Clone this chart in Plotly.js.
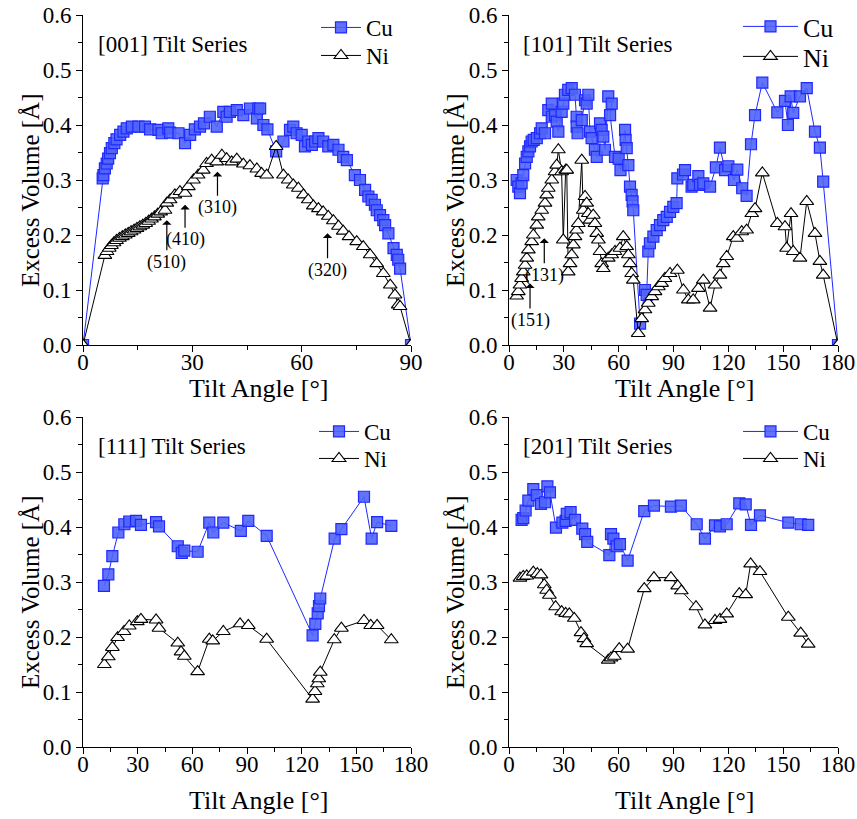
<!DOCTYPE html>
<html>
<head>
<meta charset="utf-8">
<script src="https://cdn.plot.ly/plotly-3.0.1.min.js"></script>
<style>html,body{margin:0;padding:0;background:#fff;}#chart{width:857px;height:819px;}</style>
</head>
<body>
<div id="chart"></div>
<script>
// ---------- data ----------
const seriesNames = ["Cu", "Ni"];
const panelTitles = ["[001] Tilt Series", "[101] Tilt Series", "[111] Tilt Series", "[201] Tilt Series"];
const xAxisTitle = "Tilt Angle [°]";
const yAxisTitle = "Excess Volume [Å]";
const yTickVals = [0, 0.1, 0.2, 0.3, 0.4, 0.5, 0.6];

const cu001_x = [0, 5.4, 5.6, 6.0, 6.5, 6.9, 7.4, 7.9, 8.6, 9.2, 10.2, 11.1, 12.0, 13.4, 15.2, 17.0, 18.4, 20.7, 21.6, 23.4, 23.9, 26.2, 28.0, 29.4, 30.7, 32.1, 33.2, 34.8, 36.7, 38.5, 39.4, 40.3, 42.2, 44.0, 45.8, 47.7, 48.1, 48.6, 49.5, 50.6, 53.0, 55.0, 56.8, 57.7, 58.6, 60.0, 60.9, 61.8, 62.8, 63.7, 64.6, 65.9, 67.3, 68.7, 70.1, 71.4, 72.4, 74.6, 76.0, 77.4, 78.3, 79.2, 80.1, 80.6, 81.5, 82.4, 82.9, 83.8, 85.2, 86.1, 86.5, 87.0, 90];
const cu001_y = [0, 0.303, 0.309, 0.321, 0.330, 0.339, 0.349, 0.358, 0.367, 0.374, 0.382, 0.388, 0.394, 0.397, 0.397, 0.397, 0.392, 0.391, 0.385, 0.394, 0.386, 0.385, 0.367, 0.382, 0.392, 0.397, 0.403, 0.415, 0.397, 0.424, 0.415, 0.424, 0.427, 0.418, 0.430, 0.412, 0.430, 0.430, 0.400, 0.392, 0.352, 0.370, 0.391, 0.397, 0.385, 0.382, 0.361, 0.370, 0.364, 0.370, 0.376, 0.370, 0.361, 0.364, 0.355, 0.342, 0.336, 0.309, 0.300, 0.282, 0.270, 0.264, 0.255, 0.245, 0.236, 0.227, 0.218, 0.203, 0.176, 0.164, 0.155, 0.139, 0];
const ni001_x = [0, 6.0, 6.6, 7.2, 7.8, 8.5, 9.2, 10.0, 10.8, 11.6, 12.4, 13.2, 14.0, 14.8, 15.6, 16.4, 17.2, 18.0, 18.8, 19.6, 20.5, 21.3, 22.5, 23.0, 23.9, 25.2, 26.6, 28.0, 28.9, 30.3, 31.6, 33.0, 33.9, 35.3, 36.7, 38.1, 39.4, 40.8, 42.2, 44.0, 45.8, 47.7, 49.0, 50.4, 53.0, 55.0, 56.3, 57.7, 59.1, 60.5, 61.8, 63.2, 64.6, 65.9, 67.3, 68.7, 70.1, 71.4, 73.0, 75.1, 76.9, 78.8, 80.6, 82.4, 84.3, 85.6, 86.5, 87.0, 90];
const ni001_y = [0, 0.163, 0.170, 0.176, 0.181, 0.186, 0.190, 0.194, 0.197, 0.200, 0.203, 0.206, 0.209, 0.212, 0.215, 0.218, 0.221, 0.225, 0.229, 0.233, 0.238, 0.242, 0.245, 0.258, 0.264, 0.273, 0.279, 0.276, 0.288, 0.300, 0.309, 0.318, 0.330, 0.336, 0.333, 0.345, 0.339, 0.333, 0.338, 0.329, 0.326, 0.320, 0.312, 0.309, 0.361, 0.309, 0.300, 0.291, 0.285, 0.273, 0.264, 0.253, 0.248, 0.242, 0.234, 0.226, 0.216, 0.207, 0.197, 0.188, 0.179, 0.164, 0.148, 0.130, 0.109, 0.091, 0.073, 0.070, 0];

const cu101_x = [4.2, 5.1, 6.0, 6.9, 7.8, 8.8, 9.7, 10.6, 11.5, 12.4, 13.5, 15.2, 17.0, 17.9, 19.7, 21.5, 23.4, 23.4, 25.2, 26.1, 27.0, 28.8, 29.7, 30.6, 32.4, 34.3, 36.1, 37.0, 37.0, 37.5, 39.8, 41.6, 42.5, 43.4, 44.3, 45.2, 47.0, 48.0, 49.8, 50.7, 51.6, 52.5, 54.3, 56.2, 55.3, 58.0, 60.0, 61.0, 63.5, 63.8, 64.4, 65.3, 66.2, 67.1, 67.6, 68.0, 71.7, 74.4, 75.3, 76.2, 77.1, 79.0, 80.8, 82.6, 84.4, 86.3, 88.1, 89.9, 91.7, 92.1, 95.2, 96.3, 99.9, 100.8, 103.6, 104.5, 106.3, 110.0, 113.2, 115.4, 118.2, 120.0, 123.1, 124.9, 127.6, 130.0, 132.4, 134.6, 138.6, 146.8, 151.0, 152.6, 154.1, 155.5, 159.2, 162.9, 167.4, 170.1, 171.9, 180];
const cu101_y = [0.300, 0.288, 0.276, 0.294, 0.309, 0.330, 0.342, 0.352, 0.361, 0.370, 0.373, 0.376, 0.385, 0.394, 0.385, 0.427, 0.415, 0.439, 0.418, 0.406, 0.388, 0.424, 0.439, 0.455, 0.464, 0.467, 0.455, 0.415, 0.397, 0.385, 0.409, 0.445, 0.439, 0.455, 0.388, 0.376, 0.355, 0.342, 0.403, 0.391, 0.379, 0.355, 0.452, 0.439, 0.418, 0.342, 0.339, 0.318, 0.391, 0.373, 0.358, 0.327, 0.288, 0.273, 0.261, 0.245, 0.039, 0.100, 0.091, 0.170, 0.185, 0.197, 0.209, 0.218, 0.227, 0.233, 0.242, 0.251, 0.258, 0.303, 0.310, 0.318, 0.288, 0.291, 0.307, 0.291, 0.294, 0.288, 0.323, 0.359, 0.318, 0.325, 0.300, 0.319, 0.285, 0.271, 0.365, 0.418, 0.477, 0.423, 0.444, 0.400, 0.452, 0.422, 0.452, 0.467, 0.388, 0.359, 0.297, 0];
const ni101_x = [4.2, 5.1, 6.0, 6.9, 7.8, 8.8, 9.7, 10.6, 12.4, 13.3, 15.2, 16.0, 17.9, 19.7, 20.6, 21.5, 23.4, 25.2, 26.1, 27.0, 28.8, 29.7, 31.0, 31.6, 32.4, 33.4, 34.3, 35.2, 36.1, 37.0, 37.9, 39.8, 40.6, 41.6, 42.5, 43.4, 44.3, 46.1, 47.0, 48.0, 48.9, 49.8, 50.7, 51.6, 54.3, 56.2, 58.0, 60.7, 62.5, 64.4, 65.3, 66.2, 67.1, 68.0, 70.7, 72.6, 74.4, 76.2, 78.1, 79.9, 81.7, 83.5, 85.3, 88.1, 92.1, 95.4, 98.1, 100.8, 103.6, 106.3, 110.0, 112.7, 115.4, 117.2, 119.1, 122.7, 124.6, 127.3, 130.0, 132.8, 134.6, 138.6, 146.8, 151.0, 151.9, 154.3, 155.5, 159.2, 162.9, 167.4, 170.1, 171.9, 180];
const ni101_y = [0.089, 0.097, 0.109, 0.121, 0.133, 0.145, 0.158, 0.173, 0.188, 0.200, 0.218, 0.233, 0.245, 0.258, 0.273, 0.285, 0.300, 0.315, 0.327, 0.355, 0.315, 0.191, 0.318, 0.318, 0.133, 0.148, 0.164, 0.182, 0.197, 0.209, 0.221, 0.336, 0.245, 0.270, 0.258, 0.239, 0.227, 0.236, 0.221, 0.203, 0.191, 0.170, 0.148, 0.139, 0.158, 0.164, 0.170, 0.176, 0.197, 0.179, 0.164, 0.148, 0.130, 0.118, 0.021, 0.048, 0.064, 0.076, 0.088, 0.097, 0.106, 0.112, 0.121, 0.130, 0.136, 0.100, 0.082, 0.082, 0.103, 0.118, 0.067, 0.109, 0.127, 0.148, 0.161, 0.197, 0.194, 0.206, 0.209, 0.239, 0.248, 0.313, 0.221, 0.215, 0.176, 0.239, 0.170, 0.158, 0.261, 0.203, 0.152, 0.127, 0];

const cu111_x = [11.5, 13.9, 16.1, 19.4, 22.7, 25.4, 29.1, 31.8, 40.1, 41.7, 52.0, 54.2, 55.6, 62.9, 69.3, 71.5, 77.0, 86.6, 90.7, 100.8, 126.0, 127.5, 128.8, 129.5, 130.2, 138.1, 141.8, 154.2, 158.4, 161.4, 169.2];
const cu111_y = [0.293, 0.314, 0.347, 0.390, 0.405, 0.410, 0.411, 0.404, 0.409, 0.401, 0.365, 0.353, 0.357, 0.355, 0.408, 0.390, 0.408, 0.393, 0.411, 0.384, 0.203, 0.224, 0.243, 0.256, 0.270, 0.379, 0.396, 0.455, 0.379, 0.409, 0.402];
const ni111_x = [11.7, 13.9, 16.1, 19.0, 22.5, 25.4, 29.8, 31.8, 40.1, 41.7, 52.0, 53.8, 55.6, 62.9, 69.3, 71.2, 77.0, 86.2, 90.7, 100.8, 126.0, 127.3, 128.6, 129.4, 130.2, 137.9, 141.8, 154.2, 157.9, 161.4, 169.2];
const ni111_y = [0.150, 0.164, 0.181, 0.199, 0.210, 0.220, 0.228, 0.232, 0.231, 0.216, 0.189, 0.173, 0.165, 0.137, 0.196, 0.193, 0.210, 0.224, 0.221, 0.196, 0.087, 0.101, 0.115, 0.124, 0.136, 0.195, 0.216, 0.230, 0.221, 0.221, 0.195];

const cu201_x = [6.9, 7.8, 9.1, 10.6, 13.3, 15.2, 17.5, 19.7, 21.0, 22.4, 25.7, 29.2, 31.0, 31.6, 33.7, 36.1, 40.1, 41.6, 42.8, 54.9, 55.8, 57.1, 58.9, 60.7, 64.9, 74.0, 79.3, 88.6, 94.0, 102.7, 107.2, 112.7, 115.4, 119.1, 126.0, 129.5, 132.4, 137.3, 152.8, 159.6, 163.7];
const cu201_y = [0.413, 0.416, 0.430, 0.448, 0.469, 0.458, 0.442, 0.445, 0.474, 0.463, 0.399, 0.408, 0.411, 0.424, 0.427, 0.413, 0.397, 0.387, 0.373, 0.349, 0.387, 0.379, 0.365, 0.369, 0.339, 0.429, 0.439, 0.437, 0.439, 0.405, 0.379, 0.403, 0.401, 0.405, 0.443, 0.441, 0.404, 0.421, 0.408, 0.405, 0.404];
const ni201_x = [6.0, 7.8, 9.7, 13.3, 15.5, 17.5, 19.3, 20.6, 22.1, 25.5, 28.8, 31.0, 33.0, 35.7, 39.4, 41.0, 42.5, 54.3, 55.8, 57.6, 60.3, 64.9, 74.0, 79.3, 88.6, 92.3, 94.3, 102.3, 107.2, 112.7, 115.4, 119.1, 126.0, 129.5, 132.2, 137.3, 152.8, 159.6, 163.7];
const ni201_y = [0.307, 0.310, 0.311, 0.318, 0.315, 0.313, 0.295, 0.285, 0.276, 0.255, 0.246, 0.243, 0.242, 0.234, 0.208, 0.197, 0.188, 0.158, 0.162, 0.165, 0.179, 0.178, 0.288, 0.308, 0.308, 0.293, 0.284, 0.255, 0.222, 0.230, 0.232, 0.242, 0.279, 0.277, 0.333, 0.319, 0.236, 0.207, 0.187];

// annotation labels with arrows: [panel, label, tipX, tipY, offsetY]
const arrowLabels = [
  [1, "(510)", 23.0, 0.227, 42],
  [1, "(410)", 28.0, 0.255, 35],
  [1, "(310)", 36.9, 0.315, 36],
  [1, "(320)", 67.1, 0.203, 37],
  [2, "(151)", 11.5, 0.112, 37],
  [2, "(131)", 19.3, 0.194, 37]
];

// ---------- style ----------
const FONT = "Liberation Serif, Times New Roman, serif";
const W = 857, H = 819;
const px2x = p => p / W, py2y = p => 1 - p / H;
const colLeft = [px2x(83), px2x(411)], colRight = [px2x(509), px2x(838)];
const rowTop = [py2y(345), py2y(15)], rowBot = [py2y(747), py2y(417)];
const panels = [
  {cx: cu001_x, cy: cu001_y, nx: ni001_x, ny: ni001_y, xr: 90, xd: colLeft, yd: rowTop},
  {cx: cu101_x, cy: cu101_y, nx: ni101_x, ny: ni101_y, xr: 180, xd: colRight, yd: rowTop},
  {cx: cu111_x, cy: cu111_y, nx: ni111_x, ny: ni111_y, xr: 180, xd: colLeft, yd: rowBot},
  {cx: cu201_x, cy: cu201_y, nx: ni201_x, ny: ni201_y, xr: 180, xd: colRight, yd: rowBot}
];
// one legend box per entry: [left px, top px (Cu), top px (Ni), font size, item width]
const legendPos = [
  [316, 6, 34, 23, 40],
  [738, 3, 33, 26, 55],
  [314, 410, 437, 23, 40],
  [738, 410, 437, 23, 55]
];
// axis title centres in px: [xTitleX, xTitleY, yTitleX, yTitleY]
const axisTitlePos = [
  [258, 388, 30, 190],
  [684, 388, 455, 190],
  [258, 800, 30, 592],
  [684, 800, 455, 592]
];

const data = [];
const layout = {
  width: W, height: H, margin: {l: 0, r: 0, t: 0, b: 0},
  paper_bgcolor: "#fff", plot_bgcolor: "#fff",
  font: {family: FONT, color: "#000"},
  showlegend: true, annotations: []
};

let legendCount = 0;
function legendName() { legendCount++; return legendCount === 1 ? "legend" : "legend" + legendCount; }

panels.forEach((p, i) => {
  const k = i + 1, sfx = k === 1 ? "" : String(k);
  const xa = "x" + sfx, ya = "y" + sfx;
  const L = legendPos[i];
  const lgCu = legendName(), lgNi = legendName();
  data.push({
    x: p.cx, y: p.cy, xaxis: xa, yaxis: ya, name: seriesNames[0], legend: lgCu,
    type: "scatter", mode: "lines+markers",
    line: {color: "rgb(30,40,255)", width: 1},
    marker: {symbol: "square", size: 11, color: "rgba(80,100,250,0.9)", line: {color: "rgb(30,40,255)", width: 1.2}}
  });
  data.push({
    x: p.nx, y: p.ny, xaxis: xa, yaxis: ya, name: seriesNames[1], legend: lgNi,
    type: "scatter", mode: "lines+markers",
    line: {color: "#000", width: 1},
    marker: {symbol: "triangle-up", size: 12, color: "#fff", line: {color: "#000", width: 1.1}}
  });
  [[lgCu, L[1]], [lgNi, L[2]]].forEach(([name, top]) => {
    layout[name] = {
      x: px2x(L[0]), y: py2y(top), xanchor: "left", yanchor: "top", bgcolor: "rgba(0,0,0,0)",
      borderwidth: 0, font: {family: FONT, size: L[3], color: "#000"}, itemwidth: L[4]
    };
  });
  const common = {
    showline: true, linecolor: "#000", linewidth: 1, mirror: false,
    ticks: "outside", ticklen: 6, tickwidth: 1, tickcolor: "#000",
    showgrid: false, zeroline: false,
    tickfont: {family: FONT, size: 23, color: "#000"}
  };
  layout["xaxis" + sfx] = Object.assign({}, common, {
    domain: p.xd, anchor: ya, range: [0, p.xr], dtick: 30, tick0: 0, ticklabelstandoff: -10,
    minor: {ticks: "outside", ticklen: 4, dtick: 15, tickcolor: "#000", showgrid: false}
  });
  layout["yaxis" + sfx] = Object.assign({}, common, {
    domain: p.yd, anchor: xa, range: [0, 0.6], tickvals: yTickVals, tickformat: ".1f",
    minor: {ticks: "outside", ticklen: 4, dtick: 0.05, tickcolor: "#000", showgrid: false}
  });
  const T = axisTitlePos[i];
  layout.annotations.push({
    xref: "paper", yref: "paper", x: px2x(T[0]), y: py2y(T[1]), xanchor: "center", yanchor: "middle",
    showarrow: false, text: xAxisTitle, font: {family: FONT, size: 26, color: "#000"}
  });
  layout.annotations.push({
    xref: "paper", yref: "paper", x: px2x(T[2]), y: py2y(T[3]), xanchor: "center", yanchor: "middle",
    showarrow: false, textangle: -90, text: yAxisTitle, font: {family: FONT, size: 25, color: "#000"}
  });
  layout.annotations.push({
    xref: "paper", yref: "paper", x: px2x(i % 2 === 0 ? 96 : 521), y: py2y(i < 2 ? 44 : 447),
    xanchor: "left", yanchor: "middle", showarrow: false,
    text: panelTitles[i], font: {family: FONT, size: 23, color: "#000"}
  });
});

arrowLabels.forEach(a => {
  const sfx = a[0] === 1 ? "" : String(a[0]);
  layout.annotations.push({
    xref: "x" + sfx, yref: "y" + sfx, x: a[2], y: a[3], ax: 0, ay: a[4],
    text: a[1], showarrow: true, arrowhead: 1, arrowsize: 1.3, arrowwidth: 1.2, arrowcolor: "#000",
    standoff: 0, font: {family: FONT, size: 18, color: "#000"}
  });
});

Plotly.newPlot("chart", data, layout, {displayModeBar: false, staticPlot: true});
</script>
</body>
</html>
